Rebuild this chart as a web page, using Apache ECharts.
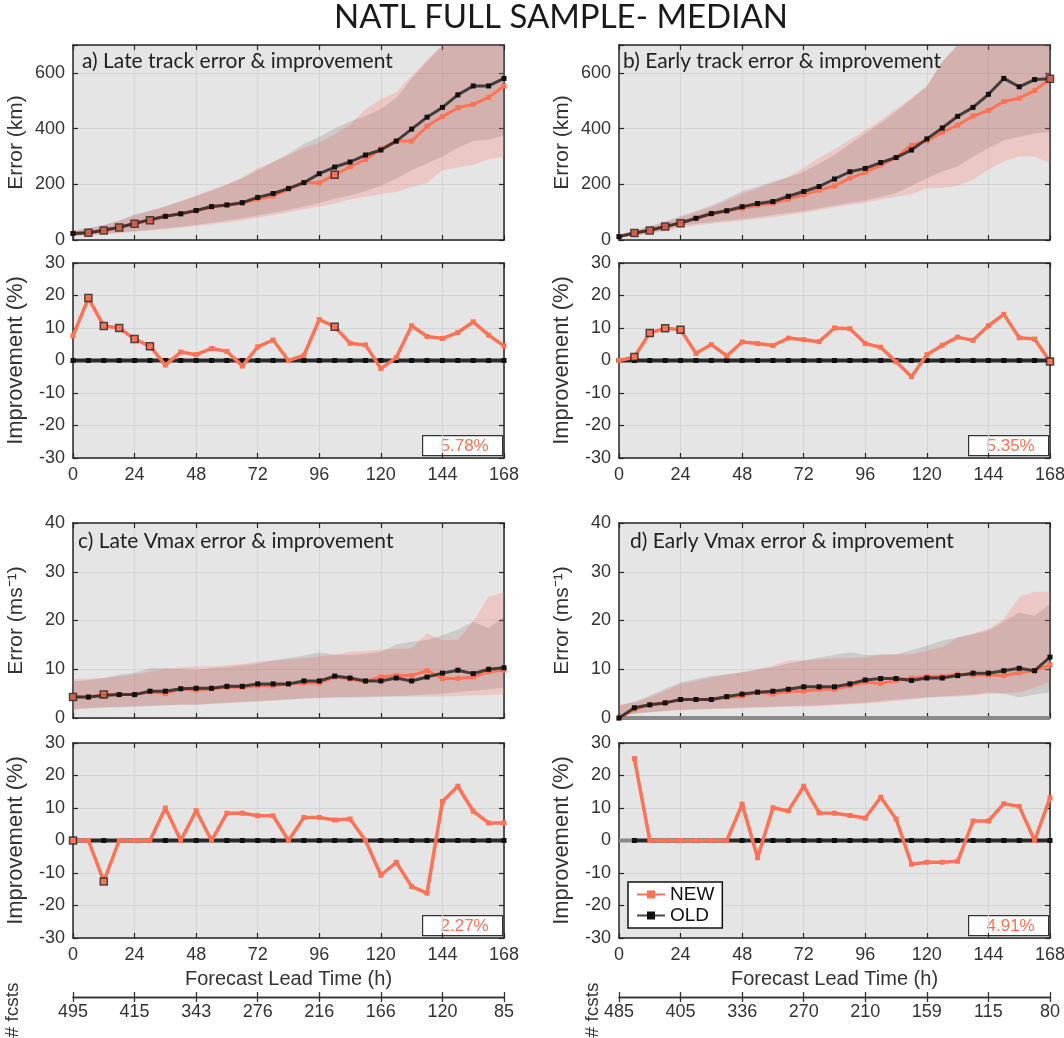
<!DOCTYPE html>
<html>
<head>
<meta charset="utf-8">
<script src="https://cdn.jsdelivr.net/npm/echarts@6/dist/echarts.min.js"></script>
<style>
  html, body { margin: 0; padding: 0; background: #ffffff; }
  #chart { width: 1064px; height: 1038px; }
</style>
</head>
<body>
<div id="chart"></div>
<script>
// ---------------- data ----------------
const hours = [0,6,12,18,24,30,36,42,48,54,60,66,72,78,84,90,96,102,108,114,120,126,132,138,144,150,156,162,168];
const xTicks = [0,24,48,72,96,120,144,168];
const fcstsLate  = ['495','415','343','276','216','166','120','85'];
const fcstsEarly = ['485','405','336','270','210','159','115','80'];

// a) late track error (km)
const trackLateNew = [23.5,26,34,45,58,71,85,94,105,118,125,133,147,158,182,206,205,234,263,289,327,355,355,408,443,475,487,512,553];
const trackLateOld = [23.5,26,35,46,59,73,85,94,106,120,126,134,153,167,185,206,238,262,280,305,323,355,398,441,476,521,553,553,580];
const trackLateNewLo = [14,16,20,24,29,34,38,43,50,56,63,70,80,90,100,110,120,130,145,155,165,172,190,205,250,260,270,290,300];
const trackLateNewHi = [32,40,52,68,88,104,120,140,160,180,200,225,258,280,305,330,350,380,415,470,506,530,590,647,700,750,790,810,830];
const trackLateOldLo = [15,18,22,27,32,37,42,48,54,62,70,78,88,98,108,120,133,148,160,175,195,220,250,275,300,330,355,360,375];
const trackLateOldHi = [34,42,55,70,92,106,120,138,158,178,198,222,250,280,310,345,370,400,425,445,470,510,580,640,700,750,790,810,830];
const impTrackLate = [7.6,19.2,10.6,10.0,6.6,4.4,-1.4,2.6,1.8,3.7,2.8,-1.7,4.2,6.3,0,1.6,12.6,10.4,5.3,4.8,-2.5,0.9,10.7,7.4,6.8,8.6,11.9,7.8,4.5];
const sigTrackLate = [1,2,3,4,5,17];
const pctTrackLate = '5.78%';

// b) early track error (km)
const trackEarlyNew = [12,25,34,48.5,60,77,93,104,114,125,132,147,162,179,194,222,243,269,296,340,356,386,412,445,465,497,509,536,579];
const trackEarlyOld = [12,25,35,48.5,61.5,78,95,105,119.5,131,138,157,174,192,219,245,257,278,296,323,363,402,444,476,523,580,550,576,579];
const trackEarlyNewLo = [9,14,22,32,45,52,58,64,69,76,82,90,98,108,118,126,134,145,155,163,187,187,195,216,252,282,300,300,276];
const trackEarlyNewHi = [18,32,46,62,82,100,118,140,165,185,205,228,258,295,325,360,394,430,470,510,554,640,700,740,780,810,830,850,870];
const trackEarlyOldLo = [10,16,25,36,51,58,64,70,75,82,90,97,104,114,124,134,142,155,169,195,222,246,264,300,329,358,370,382,388];
const trackEarlyOldHi = [20,34,50,66,86,104,124,148,175,192,210,225,245,275,305,345,382,420,460,505,550,640,700,740,780,810,830,850,870];
const impTrackEarly = [0,1.1,8.5,9.9,9.5,2.2,4.9,1.4,5.7,5.2,4.6,6.9,6.4,5.8,10.0,9.8,5.2,4.1,-0.4,-5.0,1.8,4.7,7.2,6.2,10.7,14.2,7.0,6.6,-0.3];
const sigTrackEarly = [1,2,3,4,28];
const pctTrackEarly = '5.35%';

// c) late Vmax error (m/s)
const vmaxLateNew = [4.3,4.3,4.8,4.8,4.8,5.4,5.0,6.0,5.7,6.0,6.3,6.3,6.6,6.6,7.0,7.2,7.2,8.4,8.0,7.5,8.4,8.7,8.7,9.7,8.1,8.1,8.4,9.5,9.8];
const vmaxLateOld = [4.3,4.3,4.6,4.8,4.8,5.5,5.5,6.0,6.1,6.1,6.5,6.5,7.0,7.0,7.0,7.6,7.6,8.6,8.2,7.6,7.6,8.2,7.6,8.4,9.2,9.8,9.1,10.0,10.3];
const vmaxLateNewLo = [1.7,2.0,2.2,2.3,2.4,2.5,2.6,2.7,2.7,2.9,3.1,3.3,3.5,3.6,3.8,4.0,4.1,4.2,4.3,4.4,4.4,4.4,4.4,4.4,4.4,4.5,4.6,4.7,4.8];
const vmaxLateNewHi = [8.0,8.1,8.2,8.5,8.9,9.5,10.1,10.4,10.6,10.6,10.8,11.1,11.6,11.8,12.0,12.3,12.6,13.0,13.6,13.8,14.0,14.2,14.3,17.4,16.0,16.0,19.8,24.9,25.8];
const vmaxLateOldLo = [1.8,2.0,2.1,2.2,2.3,2.4,2.6,2.7,2.7,2.9,3.1,3.3,3.4,3.6,3.8,4.0,4.1,4.2,4.2,4.2,4.4,4.5,4.6,4.8,5.0,5.3,5.6,5.9,6.2];
const vmaxLateOldHi = [7.5,7.8,8.2,8.9,9.3,10.2,10.2,10.0,9.9,10.2,10.4,10.8,11.2,11.8,12.3,12.8,13.5,13.0,12.9,13.2,13.6,15.1,15.7,16.0,17.0,18.1,19.8,18.4,20.8];
const impVmaxLate = [0,0,-12.6,0,0,0,10.0,0,9.2,0,8.4,8.4,7.6,7.6,0,7.1,7.1,6.3,6.6,0,-10.7,-6.7,-14.2,-16.2,12.0,16.7,9.0,5.4,5.4];
const sigVmaxLate = [0,2];
const pctVmaxLate = '2.27%';

// d) early Vmax error (m/s)
const vmaxEarlyNew = [0,1.8,2.7,3.1,3.8,3.8,3.8,4.2,4.5,5.3,4.9,5.5,5.5,5.9,5.9,6.6,7.4,7.1,7.7,8.2,8.5,8.5,9.0,8.8,8.8,8.7,9.3,9.7,10.9];
const vmaxEarlyOld = [0,2.1,2.7,3.1,3.8,3.8,3.8,4.4,4.9,5.3,5.5,5.9,6.4,6.4,6.4,7.0,7.8,8.1,8.1,7.7,8.2,8.2,8.7,9.2,9.2,9.7,10.2,9.7,12.5];
const vmaxEarlyNewLo = [0.5,0.9,1.2,1.4,1.6,1.7,1.8,1.9,2.0,2.1,2.2,2.3,2.3,2.4,2.6,2.8,2.9,3.2,3.5,3.8,4.2,4.3,4.4,4.6,4.9,5.1,5.3,6.2,7.3];
const vmaxEarlyNewHi = [2.7,3.2,4.2,5.6,7.0,7.6,8.3,8.9,9.4,10.0,10.7,11.8,11.8,12.0,12.2,12.3,12.4,13.1,13.1,13.1,13.8,14.5,16.5,17.3,18.3,20.3,24.8,25.9,25.9];
const vmaxEarlyOldLo = [0.3,0.8,1.2,1.5,1.7,1.8,1.9,2.0,2.1,2.2,2.3,2.4,2.5,2.6,2.8,3.0,3.2,3.5,3.8,4.0,4.2,4.4,4.6,4.8,5.3,5.0,4.2,4.8,5.3];
const vmaxEarlyOldHi = [2.5,3.4,4.6,6.0,7.3,8.0,8.6,9.0,9.4,9.9,10.4,11.2,11.8,12.4,13.0,13.5,12.9,13.0,13.1,13.9,14.8,15.9,16.5,17.2,17.9,19.8,21.7,21.0,23.4];
const impVmaxEarly = [null,25.2,0,0,0,0,0,0,11.2,-5.3,10.1,9.1,16.7,8.5,8.4,7.7,6.9,13.3,6.6,-7.3,-6.7,-6.7,-6.4,6.0,6.0,11.3,10.5,0,13.1];
const sigVmaxEarly = [];
const pctVmaxEarly = '4.91%';

// reference (OLD) improvement is zero by definition
const impOldZero  = [0,0,0,0,0,0,0,0,0,0,0,0,0,0,0,0,0,0,0,0,0,0,0,0,0,0,0,0,0];
const impOldEarlyVmax = [null,0,0,0,0,0,0,0,0,0,0,0,0,0,0,0,0,0,0,0,0,0,0,0,0,0,0,0,0];
// grey baseline in the early-Vmax panels
const baseHours = [0,168];
const baseVals = [0,0];
const baseImpHours = [0,6];
const baseImpVals = [0,0];

// ---------------- styling / layout ----------------
const C_NEW = '#ff7256';
const C_OLD_LINE = 'rgba(40,40,40,0.85)';
const C_OLD_MARK = '#111111';
const BAND_NEW = 'rgba(255,120,110,0.26)';
const BAND_OLD = 'rgba(70,40,40,0.14)';
const C_AXIS = '#262626';
const C_TEXT = '#333333';
const F_SANS = '"Liberation Sans", Arial, Helvetica, sans-serif';
const F_HUM = 'Lato, "Open Sans", sans-serif';

const COL_LEFT = [73, 619];
const PLOT_W = 431;
const ERR_TOP = [45, 523];
const IMP_TOP = [263, 743];
const PLOT_H = 195;

const panels = [
  { title: 'a) Late track error & improvement', col: 0, row: 0, yName: 'Error (km)', yMax: 700, yInt: 200,
    nw: trackLateNew, od: trackLateOld, nLo: trackLateNewLo, nHi: trackLateNewHi, oLo: trackLateOldLo, oHi: trackLateOldHi,
    imp: impTrackLate, impOld: impOldZero, sig: sigTrackLate, pct: pctTrackLate, tx: 82, ty: 51 },
  { title: 'b) Early track error & improvement', col: 1, row: 0, yName: 'Error (km)', yMax: 700, yInt: 200,
    nw: trackEarlyNew, od: trackEarlyOld, nLo: trackEarlyNewLo, nHi: trackEarlyNewHi, oLo: trackEarlyOldLo, oHi: trackEarlyOldHi,
    imp: impTrackEarly, impOld: impOldZero, sig: sigTrackEarly, pct: pctTrackEarly, tx: 623, ty: 51 },
  { title: 'c) Late Vmax error & improvement', col: 0, row: 1, yName: 'Error (ms\u207B\u00B9)', yMax: 40, yInt: 10,
    nw: vmaxLateNew, od: vmaxLateOld, nLo: vmaxLateNewLo, nHi: vmaxLateNewHi, oLo: vmaxLateOldLo, oHi: vmaxLateOldHi,
    imp: impVmaxLate, impOld: impOldZero, sig: sigVmaxLate, pct: pctVmaxLate, tx: 78, ty: 531 },
  { title: 'd) Early Vmax error & improvement', col: 1, row: 1, yName: 'Error (ms\u207B\u00B9)', yMax: 40, yInt: 10,
    nw: vmaxEarlyNew, od: vmaxEarlyOld, nLo: vmaxEarlyNewLo, nHi: vmaxEarlyNewHi, oLo: vmaxEarlyOldLo, oHi: vmaxEarlyOldHi,
    imp: impVmaxEarly, impOld: impOldEarlyVmax, sig: sigVmaxEarly, pct: pctVmaxEarly, tx: 630, ty: 531, base: true }
];

const xy = (xs, vals) => xs.map((h, i) => [h, vals[i] == null ? '-' : vals[i]]);

// spread band between lower and upper percentiles, drawn as one polygon
function bandSeries(xi, yi, lo, hi, color) {
  return {
    type: 'custom', xAxisIndex: xi, yAxisIndex: yi, clip: true, silent: true, z: 1,
    data: hours.map((h, i) => [h, lo[i], hi[i]]),
    encode: { x: 0, y: [1, 2] },
    renderItem: (params, api) => {
      if (params.dataIndex !== 0) return null;
      const top = hours.map((h, i) => api.coord([h, hi[i]]));
      const bot = hours.map((h, i) => api.coord([h, lo[i]])).reverse();
      return { type: 'polygon', shape: { points: top.concat(bot) }, style: { fill: color } };
    }
  };
}

const grids = [], xAxes = [], yAxes = [], series = [], graphics = [], titles = [];

titles.push({
  text: 'NATL FULL SAMPLE- MEDIAN', left: 561, top: 1, textAlign: 'center', padding: 0,
  textStyle: { fontFamily: F_HUM, fontSize: 33, fontWeight: 'normal', color: '#1a1a1a' }
});

function addAxes(gi, o) {
  const tickStyle = { show: true, inside: true, length: 5, lineStyle: { color: C_AXIS, width: 1.2 } };
  const lineStyle = { show: true, onZero: false, lineStyle: { color: C_AXIS, width: 1.5 } };
  const lbl = { color: C_TEXT, fontFamily: F_SANS, fontSize: 18 };
  xAxes.push({
    gridIndex: gi, type: 'value', min: 0, max: 168, interval: 24, position: 'bottom',
    axisLine: lineStyle, axisTick: tickStyle,
    axisLabel: Object.assign({ show: o.xLabels, margin: 8, hideOverlap: false }, lbl),
    splitLine: { show: true, lineStyle: { color: '#d3d3d3', width: 1 } },
    name: o.xName || '', nameLocation: 'middle', nameGap: 31,
    nameTextStyle: { color: C_TEXT, fontFamily: F_SANS, fontSize: 20 }
  });
  xAxes.push({
    gridIndex: gi, type: 'value', min: 0, max: 168, interval: 24, position: 'top',
    axisLine: lineStyle, axisTick: tickStyle, axisLabel: { show: false }, splitLine: { show: false }
  });
  yAxes.push({
    gridIndex: gi, type: 'value', min: o.yMin, max: o.yMax, interval: o.yInt, position: 'left',
    axisLine: lineStyle, axisTick: tickStyle,
    axisLabel: Object.assign({ margin: 8, hideOverlap: false,
      formatter: v => (Math.round(v) % o.yInt === 0 ? String(v) : '') }, lbl),
    splitLine: { show: true, lineStyle: { color: '#d3d3d3', width: 1 } },
    name: o.yName, nameLocation: 'middle', nameGap: 46, nameRotate: 90,
    nameTextStyle: { color: C_TEXT, fontFamily: F_SANS, fontSize: o.nameSize }
  });
  yAxes.push({
    gridIndex: gi, type: 'value', min: o.yMin, max: o.yMax, interval: o.yInt, position: 'right',
    axisLine: lineStyle, axisTick: tickStyle, axisLabel: { show: false }, splitLine: { show: false }
  });
}

panels.forEach((p, i) => {
  const left = COL_LEFT[p.col];
  const eg = 2 * i, ig = 2 * i + 1;
  grids.push({ left: left, width: PLOT_W, top: ERR_TOP[p.row], height: PLOT_H,
    show: true, backgroundColor: '#e5e5e5', borderWidth: 0, outerBoundsMode: 'none' });
  grids.push({ left: left, width: PLOT_W, top: IMP_TOP[p.row], height: PLOT_H,
    show: true, backgroundColor: '#e5e5e5', borderWidth: 0, outerBoundsMode: 'none' });

  addAxes(eg, { xLabels: false, yMin: 0, yMax: p.yMax, yInt: p.yInt, yName: p.yName, nameSize: 21 });
  addAxes(ig, { xLabels: true, yMin: -30, yMax: 30, yInt: 10, yName: 'Improvement (%)', nameSize: 22,
    xName: p.row === 1 ? 'Forecast Lead Time (h)' : '' });

  const ex = 2 * eg, ey = 2 * eg, ix = 2 * ig, iy = 2 * ig;

  // spread bands (NEW beneath, OLD on top)
  series.push(bandSeries(ex, ey, p.nLo, p.nHi, BAND_NEW));
  series.push(bandSeries(ex, ey, p.oLo, p.oHi, BAND_OLD));

  if (p.base) {
    series.push({ type: 'line', xAxisIndex: ex, yAxisIndex: ey, data: xy(baseHours, baseVals),
      symbol: 'none', lineStyle: { color: '#8a8a8a', width: 4 }, silent: true, z: 2 });
  }

  // median error lines
  series.push({ name: 'NEW', type: 'line', xAxisIndex: ex, yAxisIndex: ey, data: xy(hours, p.nw),
    symbol: 'rect', symbolSize: 5, showAllSymbol: true, lineStyle: { color: C_NEW, width: 3 },
    itemStyle: { color: C_NEW }, z: 3 });
  series.push({ name: 'OLD', type: 'line', xAxisIndex: ex, yAxisIndex: ey, data: xy(hours, p.od),
    symbol: 'rect', symbolSize: 5, showAllSymbol: true, lineStyle: { color: C_OLD_LINE, width: 3 },
    itemStyle: { color: C_OLD_MARK }, z: 4 });

  // improvement panel
  if (p.base) {
    series.push({ type: 'line', xAxisIndex: ix, yAxisIndex: iy, data: xy(baseImpHours, baseImpVals),
      symbol: 'none', lineStyle: { color: '#8a8a8a', width: 4 }, silent: true, z: 2 });
  }
  series.push({ name: 'OLD', type: 'line', xAxisIndex: ix, yAxisIndex: iy, data: xy(hours, p.impOld),
    symbol: 'rect', symbolSize: 5, showAllSymbol: true, lineStyle: { color: '#2a2a2a', width: 4 },
    itemStyle: { color: C_OLD_MARK }, z: 3 });
  series.push({ name: 'NEW', type: 'line', xAxisIndex: ix, yAxisIndex: iy, data: xy(hours, p.imp),
    symbol: 'rect', symbolSize: 5, showAllSymbol: true, lineStyle: { color: C_NEW, width: 3.5 },
    itemStyle: { color: C_NEW }, z: 4 });

  // significant lead times (outlined markers)
  if (p.sig.length) {
    series.push({ type: 'scatter', xAxisIndex: ex, yAxisIndex: ey,
      data: p.sig.map(k => [hours[k], p.nw[k]]), symbol: 'rect', symbolSize: 7,
      itemStyle: { color: C_NEW, borderColor: '#222', borderWidth: 1.5 }, silent: true, z: 6 });
    series.push({ type: 'scatter', xAxisIndex: ix, yAxisIndex: iy,
      data: p.sig.map(k => [hours[k], p.imp[k]]), symbol: 'rect', symbolSize: 7,
      itemStyle: { color: C_NEW, borderColor: '#222', borderWidth: 1.5 }, silent: true, z: 6 });
  }

  // panel label
  titles.push({ text: p.title, left: p.tx, top: p.ty, padding: 0,
    textStyle: { fontFamily: F_HUM, fontSize: 21, fontWeight: 'normal', color: '#222' } });

  // mean improvement box
  graphics.push({
    type: 'group', left: left + PLOT_W - 82, top: IMP_TOP[p.row] + PLOT_H - 23,
    children: [
      { type: 'rect', shape: { x: 0, y: 0, width: 80, height: 20 },
        style: { fill: '#ffffff', stroke: '#333333', lineWidth: 1.2 } },
      { type: 'text', x: 42, y: 2,
        style: { text: p.pct, fill: C_NEW, fontFamily: F_SANS, fontSize: 17, align: 'center', verticalAlign: 'top' } }
    ]
  });
});

// forecast-count axes under each column
[fcstsLate, fcstsEarly].forEach((labels, c) => {
  const gi = grids.length;
  grids.push({ left: COL_LEFT[c], width: PLOT_W, top: 996, height: 1, show: false, outerBoundsMode: 'none' });
  const ln = { show: true, onZero: false, lineStyle: { color: '#333', width: 1.3 } };
  xAxes.push({ gridIndex: gi, type: 'value', min: 0, max: 168, interval: 24, position: 'bottom',
    axisLine: ln, axisTick: { inside: false, length: 5, lineStyle: { color: '#333', width: 1.3 } },
    axisLabel: { margin: 6, color: C_TEXT, fontFamily: F_SANS, fontSize: 18, hideOverlap: false,
      formatter: v => labels[xTicks.indexOf(Math.round(v))] || '' },
    splitLine: { show: false } });
  xAxes.push({ gridIndex: gi, type: 'value', min: 0, max: 168, interval: 24, position: 'bottom',
    axisLine: ln, axisTick: { inside: true, length: 5, lineStyle: { color: '#333', width: 1.3 } },
    axisLabel: { show: false }, splitLine: { show: false } });
  yAxes.push({ gridIndex: gi, type: 'value', min: 0, max: 1, show: false });
  graphics.push({ type: 'text', x: c === 0 ? 13 : 593, y: 1010, rotation: Math.PI / 2,
    style: { text: '# fcsts', fill: C_TEXT, fontFamily: F_SANS, fontSize: 19, align: 'center', verticalAlign: 'middle' } });
});

const chart = echarts.init(document.getElementById('chart'), null, { renderer: 'canvas' });
chart.setOption({
  animation: false,
  backgroundColor: '#ffffff',
  title: titles,
  legend: {
    data: ['NEW', 'OLD'], orient: 'vertical', left: 628, top: 882,
    backgroundColor: '#ffffff', borderColor: '#111', borderWidth: 1.5, borderRadius: 0,
    padding: [3, 8, 3, 8], itemGap: 2, itemWidth: 28, itemHeight: 10,
    textStyle: { color: '#111', fontFamily: F_SANS, fontSize: 19 }
  },
  grid: grids,
  xAxis: xAxes,
  yAxis: yAxes,
  series: series,
  graphic: graphics
});
</script>
</body>
</html>
